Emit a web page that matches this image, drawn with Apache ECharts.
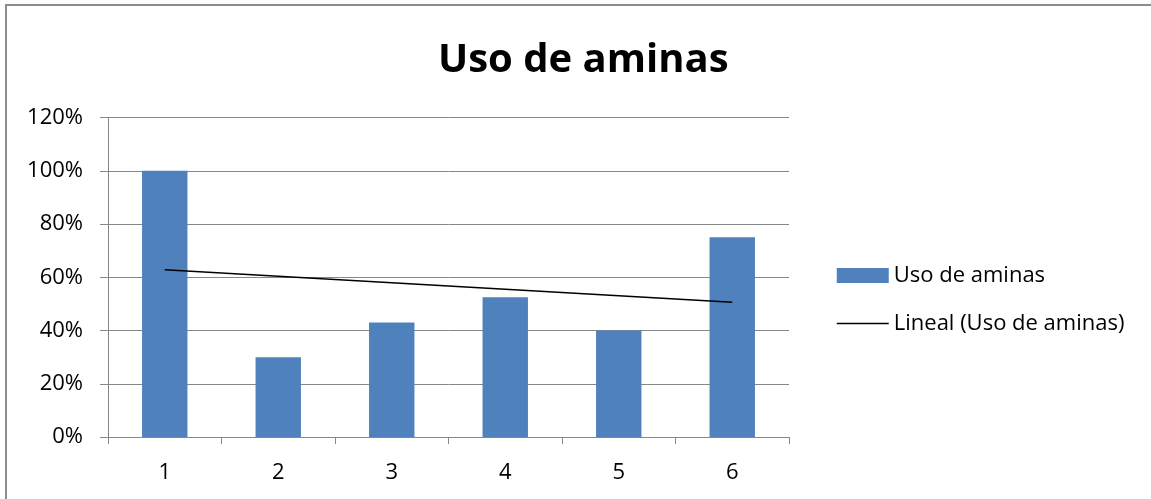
<!DOCTYPE html>
<html>
<head>
<meta charset="utf-8">
<title>Uso de aminas</title>
<script src="https://cdn.jsdelivr.net/npm/echarts@6/dist/echarts.min.js"></script>
<style>
  html, body { margin: 0; padding: 0; background: #ffffff; }
  #chart { width: 1151px; height: 499px; }
</style>
</head>
<body>
<div id="chart"></div>
<script>
// Chart data
const chartTitle = 'Uso de aminas';
const categories = ['1', '2', '3', '4', '5', '6'];
const usoAminas = [1.00, 0.30, 0.43, 0.525, 0.40, 0.75];
const yTicks = [0, 0.2, 0.4, 0.6, 0.8, 1.0, 1.2];
const seriesName = 'Uso de aminas';
const trendName = 'Lineal (Uso de aminas)';

// Least-squares linear trend over the category positions 1..n
function linearTrend(values) {
  const n = values.length;
  const xs = values.map((_, i) => i + 1);
  const mx = xs.reduce((a, b) => a + b, 0) / n;
  const my = values.reduce((a, b) => a + b, 0) / n;
  let sxy = 0, sxx = 0;
  for (let i = 0; i < n; i++) {
    sxy += (xs[i] - mx) * (values[i] - my);
    sxx += (xs[i] - mx) * (xs[i] - mx);
  }
  const slope = sxy / sxx;
  return xs.map(x => my + slope * (x - mx));
}
const trendValues = linearTrend(usoAminas);

const FONT = '"Open Sans", "Noto Sans", sans-serif';
const GRID_COLOR = '#878787';
const BAR_COLOR = '#4f81bd';

const chart = echarts.init(document.getElementById('chart'), null, { renderer: 'canvas' });

chart.setOption({
  animation: false,
  backgroundColor: '#ffffff',
  textStyle: { fontFamily: FONT },
  graphic: [{
    type: 'rect',
    shape: { x: 6, y: 5, width: 1300, height: 600 },
    style: { fill: 'none', stroke: '#8c8c8c', lineWidth: 2 },
    silent: true,
    z: -1
  }],
  title: {
    text: chartTitle,
    left: 438,
    top: 41,
    padding: 0,
    textStyle: { fontFamily: FONT, fontSize: 40, fontWeight: 'bold', color: '#000000' }
  },
  legend: {
    orient: 'vertical',
    left: 831,
    top: 259,
    itemWidth: 52,
    itemHeight: 15,
    itemGap: 25,
    textStyle: { fontFamily: FONT, fontSize: 22, lineHeight: 23, color: '#000000' },
    data: [
      { name: seriesName, icon: 'rect' },
      {
        name: trendName,
        itemStyle: { color: 'rgba(0,0,0,0)', borderWidth: 0 },
        lineStyle: { color: '#000000', width: 1.5 }
      }
    ]
  },
  grid: { left: 108, right: 362, top: 117.5, bottom: 62, containLabel: false },
  xAxis: {
    type: 'category',
    data: categories,
    boundaryGap: true,
    axisLine: { show: true, lineStyle: { color: GRID_COLOR, width: 1 } },
    axisTick: { show: true, alignWithLabel: false, length: 7, lineStyle: { color: GRID_COLOR } },
    axisLabel: { color: '#000000', fontFamily: FONT, fontSize: 22, margin: 25 },
    splitLine: { show: false }
  },
  yAxis: {
    type: 'value',
    min: 0,
    max: yTicks[yTicks.length - 1],
    interval: 0.2,
    axisLine: { show: true, lineStyle: { color: GRID_COLOR, width: 1 } },
    axisTick: { show: true, length: 8, lineStyle: { color: GRID_COLOR } },
    axisLabel: {
      color: '#000000', fontFamily: FONT, fontSize: 22, margin: 25,
      formatter: v => Math.round(v * 100) + '%'
    },
    splitLine: { show: true, lineStyle: { color: GRID_COLOR, width: 1 } }
  },
  series: [
    {
      name: seriesName,
      type: 'bar',
      data: usoAminas,
      barWidth: '40%',
      itemStyle: { color: BAR_COLOR },
      z: 2
    },
    {
      name: trendName,
      type: 'line',
      data: trendValues,
      symbol: 'none',
      showSymbol: false,
      lineStyle: { color: '#000000', width: 1.5 },
      itemStyle: { color: '#000000' },
      z: 3
    }
  ]
});
</script>
</body>
</html>
